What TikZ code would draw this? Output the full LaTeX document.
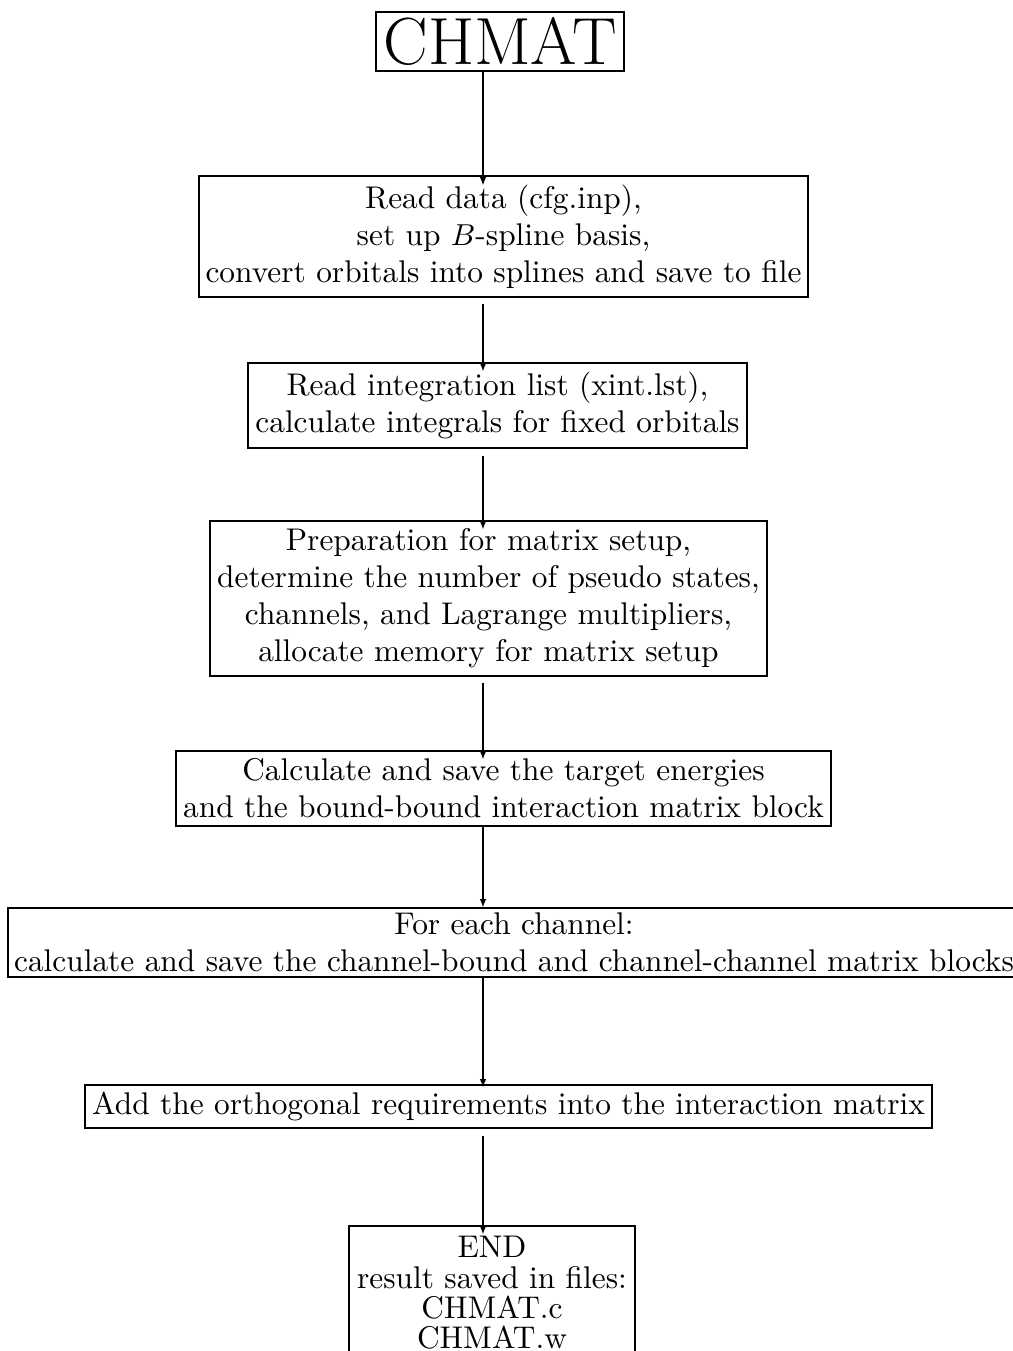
\documentclass[tikz,border=0pt]{standalone}
\usetikzlibrary{arrows.meta,calc}
\begin{document}
\begin{tikzpicture}[x=0.33pt,y=-0.33pt,
  box/.style={draw, line width=0.95pt, inner sep=0pt, align=center, font=\fontsize{10.35}{12.2}\selectfont},
  arr/.style={line width=0.7pt, -{Latex[length=2.8pt,width=2.2pt]}}]
\useasboundingbox (0,0) rectangle (1013,1351);
\coordinate (ax) at (483,0);
\node[box, minimum width=248*0.33pt, minimum height=59*0.33pt, font=\fontsize{22}{26}\selectfont] (b1) at (500,41.5) {CHMAT};
\node[box, minimum width=609*0.33pt, minimum height=121*0.33pt] (b2) at (503.5,236.5) {Read data (cfg.inp),\\ set up $B$-spline basis,\\ convert orbitals into splines and save to file};
\node[box, minimum width=499*0.33pt, minimum height=85*0.33pt] (b3) at (497.5,405.5) {Read integration list (xint.lst),\\ calculate integrals for fixed orbitals};
\node[box, minimum width=557*0.33pt, minimum height=155*0.33pt] (b4) at (488.5,598.5) {Preparation for matrix setup,\\ determine the number of pseudo states,\\ channels, and Lagrange multipliers,\\ allocate memory for matrix setup};
\node[box, minimum width=655*0.33pt, minimum height=75*0.33pt] (b5) at (503.5,788.5) {Calculate and save the target energies\\ and the bound-bound interaction matrix block};
\node[box, minimum width=1012*0.33pt, minimum height=69*0.33pt] (b6) at (514,942.5) {For each channel:\\ calculate and save the channel-bound and channel-channel matrix blocks};
\node[box, minimum width=847*0.33pt, minimum height=43*0.33pt] (b7) at (508.5,1106.5) {Add the orthogonal requirements into the interaction matrix};
\node[box, minimum width=286*0.33pt, minimum height=134*0.33pt, font=\fontsize{10.35}{10}\selectfont] (b8) at (492,1293) {END\\ result saved in files:\\ CHMAT.c\\ CHMAT.w};
\draw[arr] (b1.south -| ax) -- ($(b2.north -| ax)+(0,11)$);
\draw[arr] ($(b2.south -| ax)+(0,6)$) -- ($(b3.north -| ax)+(0,10)$);
\draw[arr] ($(b3.south -| ax)+(0,7)$) -- ($(b4.north -| ax)+(0,10)$);
\draw[arr] ($(b4.south -| ax)+(0,6)$) -- ($(b5.north -| ax)+(0,10)$);
\draw[arr] (b5.south -| ax) -- ($(b6.north -| ax)+(0,1)$);
\draw[arr] (b6.south -| ax) -- ($(b7.north -| ax)+(0,4)$);
\draw[arr] ($(b7.south -| ax)+(0,7)$) -- ($(b8.north -| ax)+(0,10)$);
\end{tikzpicture}
\end{document}
